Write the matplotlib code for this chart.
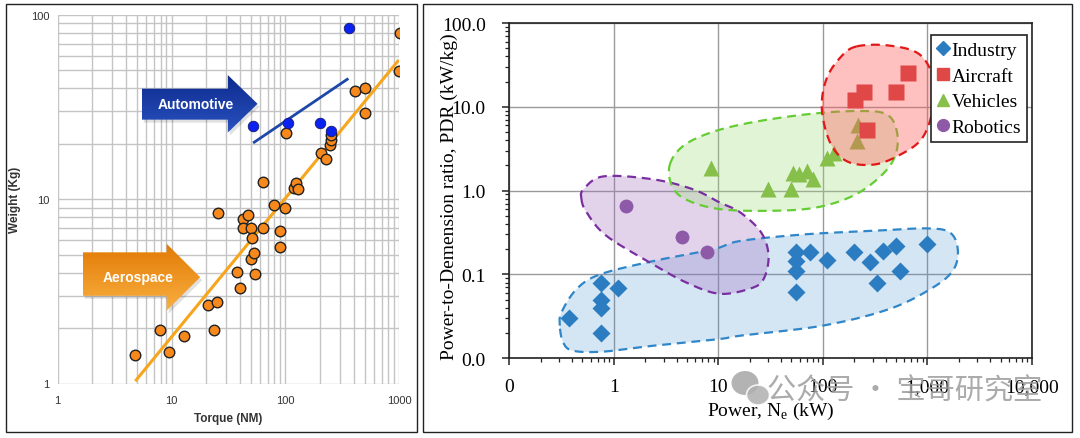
import numpy as np
import matplotlib
matplotlib.use("Agg")
import matplotlib.pyplot as plt
from matplotlib.patches import Polygon, Rectangle, Ellipse
from matplotlib.lines import Line2D
from matplotlib.ticker import NullFormatter, LogLocator

# ---------------- Left chart data: Torque vs Weight ----------------
aero_torque = [4.8, 7.9, 9.5, 12.9, 20.8, 23.8, 25, 25.4, 37.9, 40, 42.5, 42.5, 47,
               49.9, 49.9, 50.4, 52.7, 53.5, 63.6, 63.6, 79.4, 89.7, 89.7, 100, 102,
               120, 124, 130, 207, 226, 245, 253, 253, 405, 499, 499, 1000, 1006]
aero_weight = [1.43, 1.94, 1.48, 1.8, 2.68, 1.95, 2.77, 8.41, 4.05, 3.29, 7.83, 6.94, 8.2,
               6.94, 4.73, 6.15, 5.14, 3.95, 6.94, 12.45, 9.34, 6.74, 5.54, 8.91, 22.9,
               11.5, 12.25, 11.3, 17.9, 16.5, 19.6, 20.9, 22.2, 38.9, 40, 29.5, 49.9, 79.6]
auto_torque = [52.4, 106, 200, 253, 361]
auto_weight = [25, 26, 26, 23.6, 85.2]
aero_fit_torque = [4.8, 990]
aero_fit_weight = [1.03, 57]
auto_fit_torque = [52, 357]
auto_fit_weight = [20.2, 45.2]
left_xticks = [1, 10, 100, 1000]
left_xticklabels = ["1", "10", "100", "1000"]
left_yticks = [1, 10, 100]
left_yticklabels = ["1", "10", "100"]

# ---------------- Right chart data: PDR vs Power ----------------
industry_p = [0.37, 0.75, 0.75, 0.75, 1.09, 0.75, 54.8, 54.8, 54.8, 54.8, 75, 110,
              200, 282, 375, 329, 503, 549, 1000]
industry_pdr = [0.030, 0.079, 0.050, 0.040, 0.069, 0.020, 0.186, 0.145, 0.110, 0.061,
                0.183, 0.149, 0.183, 0.141, 0.191, 0.080, 0.219, 0.109, 0.23]
aircraft_p = [655, 248, 202, 500, 265]
aircraft_pdr = [25.4, 14.9, 12.2, 14.9, 5.22]
vehicles_p = [8.5, 30, 50, 52, 59, 70, 80, 110, 127, 218, 213]
vehicles_pdr = [1.88, 1.06, 1.06, 1.64, 1.56, 1.71, 1.36, 2.47, 2.83, 6.0, 3.9]
robotics_p = [1.3, 4.5, 7.7]
robotics_pdr = [0.66, 0.28, 0.183]

# region outlines (log10 power, log10 PDR)
industry_region_lx = [-0.517, -0.50, -0.357, -0.134, 0.376, 0.95, 1.21, 1.84, 2.48, 2.99,
                      3.215, 3.29, 3.25, 3.06, 2.64, 2.00, 1.21, 1.01, 0.376, -0.10, -0.39, -0.485]
industry_region_ly = [-1.61, -1.45, -1.175, -1.0, -0.84, -0.70, -0.60, -0.52, -0.48, -0.45,
                      -0.50, -0.70, -0.94, -1.15, -1.41, -1.61, -1.73, -1.77, -1.85, -1.92, -1.91, -1.81]
robotics_region_lx = [-0.31, -0.29, -0.10, 0.376, 0.76, 1.01, 1.21, 1.41, 1.48, 1.43, 1.30,
                      1.01, 0.70, 0.376, -0.07, -0.26]
robotics_region_ly = [-0.10, 0.015, 0.17, 0.135, 0.015, -0.14, -0.26, -0.50, -0.78, -1.06, -1.17,
                      -1.23, -1.10, -0.88, -0.54, -0.26]
vehicles_region_lx = [0.536, 0.66, 0.92, 1.30, 1.84, 2.32, 2.61, 2.71, 2.69, 2.55, 2.29, 1.94,
                      1.52, 1.01, 0.68, 0.55]
vehicles_region_ly = [0.313, 0.53, 0.69, 0.81, 0.91, 0.95, 0.91, 0.69, 0.41, 0.17, -0.06, -0.20,
                      -0.24, -0.22, -0.10, 0.075]
aircraft_region_lx = [2.32, 2.64, 2.93, 3.07, 3.05, 2.94, 2.71, 2.48, 2.23, 2.07, 1.99, 2.03, 2.16]
aircraft_region_ly = [1.72, 1.73, 1.62, 1.29, 0.95, 0.61, 0.41, 0.31, 0.35, 0.57, 0.97, 1.32, 1.58]

right_xticks = [0.1, 1, 10, 100, 1000, 10000]
right_xticklabels = ["0", "1", "10", "100", "1,000", "10,000"]
right_yticks = [0.01, 0.1, 1, 10, 100]
right_yticklabels = ["0.0", "0.1", "1.0", "10.0", "100.0"]


def smooth_closed(lx, ly, n=30):
    P = np.column_stack([lx, ly]).astype(float)
    N = len(P)
    t = np.linspace(0, 1, n, endpoint=False)[:, None]
    segs = []
    for i in range(N):
        p0, p1, p2, p3 = P[(i - 1) % N], P[i], P[(i + 1) % N], P[(i + 2) % N]
        segs.append(0.5 * (2 * p1 + (-p0 + p2) * t + (2 * p0 - 5 * p1 + 4 * p2 - p3) * t ** 2
                           + (-p0 + 3 * p1 - 3 * p2 + p3) * t ** 3))
    out = np.vstack(segs + [segs[0][:1]])
    return 10 ** out[:, 0], 10 ** out[:, 1]


W, H = 1080, 439
fig = plt.figure(figsize=(W / 100, H / 100), dpi=100)
fig.patch.set_facecolor("white")


def fx(px):
    return px / W


def fy(py):
    return 1 - py / H


# panel borders
fig.patches.append(Rectangle((fx(6), fy(432.5)), fx(416.7) - fx(6), fy(5) - fy(432.5),
                             transform=fig.transFigure, fill=False, ec="#222222", lw=1.0))
fig.patches.append(Rectangle((fx(423.3), fy(432.5)), fx(1071.7) - fx(423.3), fy(5) - fy(432.5),
                             transform=fig.transFigure, fill=False, ec="#222222", lw=1.0))

# ================= LEFT CHART =================
sans = ["Liberation Sans", "DejaVu Sans"]
axl_rect = [fx(57.7), fy(384.5), fx(399.3) - fx(57.7), fy(16) - fy(384.5)]
axl = fig.add_axes(axl_rect)
axl.set_xscale("log")
axl.set_yscale("log")
axl.set_xlim(1, 1000)
axl.set_ylim(1, 100)
axl.grid(which="both", color="#c4c4c4", lw=1.0)
axl.set_axisbelow(True)
for s in axl.spines.values():
    s.set_visible(False)
axl.tick_params(which="both", length=0, labelsize=8, labelcolor="#333333")
axl.set_xticks(left_xticks, left_xticklabels, fontfamily=sans)
axl.set_yticks(left_yticks, left_yticklabels, fontfamily=sans)
axl.xaxis.set_minor_locator(LogLocator(base=10, subs=np.arange(2, 10)))
axl.yaxis.set_minor_locator(LogLocator(base=10, subs=np.arange(2, 10)))
axl.xaxis.set_minor_formatter(NullFormatter())
axl.yaxis.set_minor_formatter(NullFormatter())
axl.tick_params(axis="x", pad=8)
axl.tick_params(axis="y", pad=6)
axl.set_xlabel("Torque (NM)", fontsize=8.5, fontweight="bold", family=sans, color="#333333", labelpad=5)
axl.set_ylabel("Weight (Kg)", fontsize=8.5, fontweight="bold", family=sans, color="#333333")
axl.yaxis.set_label_coords((21 - 57.7) / (399.3 - 57.7), 0.5)

axl.plot(aero_fit_torque, aero_fit_weight, color="#F7A51C", lw=2.2, zorder=2, solid_capstyle="butt")
axl.plot(auto_fit_torque, auto_fit_weight, color="#1D47A8", lw=2.0, zorder=2, solid_capstyle="butt")
axl.plot(aero_torque, aero_weight, "o", ms=7.6, mfc="#F7881C", mec="#222222", mew=1.0, zorder=3)
axl.plot(auto_torque, auto_weight, "o", ms=7.6, mfc="#0A22F0", mec="#1a1a6a", mew=0.6, zorder=3)

# arrows on overlay axes (axes fraction coordinates)
ov = fig.add_axes(axl_rect)
ov.set_xlim(0, 1)
ov.set_ylim(0, 1)
ov.axis("off")


def grad_arrow(ax, body_x0, head_x0, tip_x, body_y0, body_y1, head_y0, head_y1, c_top, c_bot):
    tip_y = (head_y0 + head_y1) / 2
    verts = [(body_x0, body_y0), (head_x0, body_y0), (head_x0, head_y0), (tip_x, tip_y),
             (head_x0, head_y1), (head_x0, body_y1), (body_x0, body_y1)]
    shadow = Polygon([(x + 0.006, y - 0.008) for x, y in verts], closed=True,
                     fc="#000000", alpha=0.12, ec="none", zorder=4)
    ax.add_patch(shadow)
    poly = Polygon(verts, closed=True, fc="none", ec="none", zorder=5)
    ax.add_patch(poly)
    ct = np.array(matplotlib.colors.to_rgb(c_top))
    cb = np.array(matplotlib.colors.to_rgb(c_bot))
    g = np.linspace(0, 1, 64)[:, None]
    img = (ct[None, :] * (1 - g) + cb[None, :] * g)[:, None, :]
    im = ax.imshow(img, extent=(body_x0, tip_x, head_y0, head_y1), origin="upper",
                   aspect="auto", zorder=5, interpolation="bilinear")
    im.set_clip_path(poly)


# Automotive arrow
grad_arrow(ov, 0.246, 0.498, 0.585, 0.800, 0.716, 0.837, 0.681, "#2A52C0", "#0C2A8C")
ov.text((0.246 + 0.56) / 2, 0.758, "Automotive", color="white", fontsize=10, fontweight="bold",
        family=sans, ha="center", va="center", zorder=6)
# Aerospace arrow
grad_arrow(ov, 0.073, 0.319, 0.417, 0.356, 0.238, 0.379, 0.198, "#F9B040", "#E27A06")
ov.text((0.073 + 0.40) / 2, 0.289, "Aerospace", color="white", fontsize=10, fontweight="bold",
        family=sans, ha="center", va="center", zorder=6)
ov.set_xlim(0, 1)
ov.set_ylim(0, 1)

# ================= RIGHT CHART =================
serif = ["Liberation Serif", "DejaVu Serif"]
axr = fig.add_axes([fx(509.3), fy(359.3), fx(1032) - fx(509.3), fy(24) - fy(359.3)])
axr.set_xscale("log")
axr.set_yscale("log")
axr.set_xlim(0.1, 10000)
axr.set_ylim(0.01, 100)
axr.grid(which="major", color="#9a9a9a", lw=1.0)
axr.set_axisbelow(True)
for s in axr.spines.values():
    s.set_color("#222222")
    s.set_linewidth(1.2)
axr.set_xticks(right_xticks, right_xticklabels, fontfamily=serif)
axr.set_yticks(right_yticks, right_yticklabels, fontfamily=serif)
axr.xaxis.set_minor_locator(LogLocator(base=10, subs=np.arange(2, 10)))
axr.yaxis.set_minor_locator(LogLocator(base=10, subs=np.arange(2, 10)))
axr.xaxis.set_minor_formatter(NullFormatter())
axr.yaxis.set_minor_formatter(NullFormatter())
axr.tick_params(which="major", length=5, width=1.1, labelsize=14, color="#222222")
axr.tick_params(which="minor", length=3, width=0.9, color="#222222")
axr.tick_params(axis="x", which="major", pad=9)
axr.tick_params(axis="y", which="major", pad=12)
axr.set_xlabel("Power, N$_\\mathregular{e}$ (kW)", fontsize=14, family=serif, labelpad=4)
axr.set_ylabel("Power-to-Demension ratio, PDR (kW/kg)", fontsize=14, family=serif)
axr.yaxis.set_label_coords((458 - 509.3) / (1032 - 509.3), 0.485)

c_ind, c_air, c_veh, c_rob = "#2B7CC0", "#E04848", "#86BF4A", "#8E5AA8"
dash = (0, (4, 2.6))

bx, by = smooth_closed(industry_region_lx, industry_region_ly)
axr.fill(bx, by, fc="#3F8BD0", alpha=0.22, ec="none", zorder=1.5)
rx, ry = smooth_closed(robotics_region_lx, robotics_region_ly)
axr.fill(rx, ry, fc="#A070C0", alpha=0.30, ec="none", zorder=1.6)
gx, gy = smooth_closed(vehicles_region_lx, vehicles_region_ly)
axr.fill(gx, gy, fc="#9EE07A", alpha=0.30, ec="none", zorder=1.7)
axr.plot(bx, by, color="#2F86C8", lw=1.6, ls=dash, zorder=2)
axr.plot(rx, ry, color="#7A2FA0", lw=1.6, ls=dash, zorder=2)
axr.plot(gx, gy, color="#66CC33", lw=1.6, ls=dash, zorder=2)

axr.plot(industry_p, industry_pdr, "D", ms=9, color=c_ind, mec="none", zorder=3, label="Industry")
axr.plot(robotics_p, robotics_pdr, "o", ms=10, color=c_rob, mec="none", zorder=3, label="Robotics")
axr.plot(vehicles_p, vehicles_pdr, "^", ms=11, color=c_veh, mec="none", zorder=3, label="Vehicles")

ax_, ay_ = smooth_closed(aircraft_region_lx, aircraft_region_ly)
axr.fill(ax_, ay_, fc="#FF5A5A", alpha=0.38, ec="none", zorder=3.5)
axr.plot(ax_, ay_, color="#E01818", lw=1.6, ls=dash, zorder=3.6)
axr.plot(aircraft_p, aircraft_pdr, "s", ms=11, color=c_air, mec="none", zorder=4, label="Aircraft")

handles = [Line2D([], [], ls="none", marker="D", ms=7.5, color=c_ind),
           Line2D([], [], ls="none", marker="s", ms=8.5, color=c_air),
           Line2D([], [], ls="none", marker="^", ms=8.5, color=c_veh),
           Line2D([], [], ls="none", marker="o", ms=8.5, color=c_rob)]
leg = axr.legend(handles, ["Industry", "Aircraft", "Vehicles", "Robotics"], loc="upper right",
                 bbox_to_anchor=(0.99, 0.963), borderaxespad=0, frameon=True, fancybox=False,
                 framealpha=1, edgecolor="#222222", prop={"family": serif, "size": 14},
                 handlelength=0.6, handletextpad=0.15, labelspacing=0.42, borderpad=0.3)
leg.get_frame().set_linewidth(1.2)
leg.set_zorder(10)

# watermark
fig.patches.append(Ellipse((fx(745), fy(384)), 27 / W, 24 / H, transform=fig.transFigure,
                           fc="#9a9a9a", ec="none", alpha=0.75, zorder=20))
fig.patches.append(Ellipse((fx(758), fy(396)), 23 / W, 20 / H, transform=fig.transFigure,
                           fc="#b0b0b0", ec="white", lw=1.2, alpha=0.85, zorder=21))
fig.text(fx(905), fy(392), "公众号 · 宝哥研究室", fontsize=21, color="#9c9c9c", alpha=0.85,
         family=["Noto Sans CJK SC", "DejaVu Sans"], ha="center", va="center", zorder=22)

fig.savefig("out.png", dpi=100)
